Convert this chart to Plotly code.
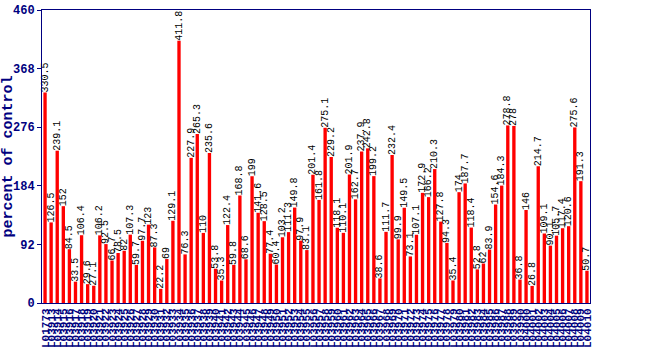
import plotly.graph_objects as go

labels = [
 "L01773","L03913","L03914","L03915","L03916","L03917","L03918","L03919","L03920","L03921",
 "L03922","L03923","L03924","L03925","L03926","L03927","L03928","L03929","L03930","L03931",
 "L03932","L03933","L03934","L03935","L03936","L03937","L03938","L03939","L03940","L03941",
 "L03942","L03943","L03944","L03945","L03946","L03947","L03948","L03949","L03950","L03951",
 "L03952","L03953","L03954","L03955","L03956","L03957","L03958","L03959","L03960","L03961",
 "L03962","L03963","L03964","L03965","L03966","L03967","L03968","L03969","L03970","L03971",
 "L03972","L03973","L03974","L03975","L03976","L03977","L03978","L03979","L03980","L03981",
 "L03982","L03983","L03984","L03985","L03986","L03987","L03988","L03989","L03990","L04000",
 "L04001","L04002","L04003","L04004","L04005","L04006","L04007","L04008","L04009","L04010",
]

values = [
 330.5,126.5,239.1,152,84.5,33.5,106.4,29.6,27.1,106.2,
 92.5,66.7,78.5,82,107.3,59.7,97.7,123,87.3,22.2,
 69,129.1,411.8,76.3,227.9,265.3,110,235.6,53.8,35.3,
 122.4,59.8,168.8,68.6,199,141.6,128.5,77.4,60.4,103.2,
 111.3,149.8,97.9,83.1,201.4,161.8,275.1,229.2,118.1,110.1,
 201.9,162.7,237.9,242.8,199.2,38.6,111.7,232.4,99.9,149.5,
 73.1,107.1,172.9,166.2,210.3,127.8,94.3,35.4,174,187.7,
 118.4,52.8,62,83.9,154.6,184.3,278.8,278,36.8,146,
 26.8,214.7,109.1,90.1,105.7,117.4,120.6,275.6,191.3,50.7,
]

y_ticks = [0, 92, 184, 276, 368, 460]
navy = "#000080"

fig = go.Figure(go.Bar(
    x=labels, y=values,
    marker=dict(color="#FF0000", line=dict(width=0)),
    width=0.55,
    text=[f"{v:g}" for v in values],
    textposition="outside",
    textangle=-90,
    constraintext="none",
    cliponaxis=False,
    textfont=dict(family="Liberation Mono", size=10, color="black"),
))

fig.update_layout(
    width=650, height=350,
    margin=dict(l=42, r=60, t=10, b=47),
    paper_bgcolor="white", plot_bgcolor="white",
    showlegend=False,
)
fig.update_xaxes(
    type="category", range=[-0.5, len(labels) - 0.5],
    tickmode="array", tickvals=labels, ticktext=labels,
    tickangle=-90, showline=True, linecolor=navy, linewidth=1, mirror=True,
    tickfont=dict(family="Liberation Mono", size=11, color=navy, weight="bold"),
    ticks="", showgrid=False, automargin=False,
)
fig.update_yaxes(
    range=[0, 460], tickvals=y_ticks, ticktext=[str(t) for t in y_ticks],
    showline=True, linecolor=navy, linewidth=1, mirror=True,
    ticks="outside", ticklen=4, tickcolor=navy, showgrid=False, zeroline=False,
    automargin=False,
    tickfont=dict(family="Liberation Mono", size=12, color=navy, weight="bold"),
    title=dict(text="percent of control", standoff=8,
               font=dict(family="Liberation Mono", size=15, color=navy, weight="bold")),
)

fig.write_html("out.html")
